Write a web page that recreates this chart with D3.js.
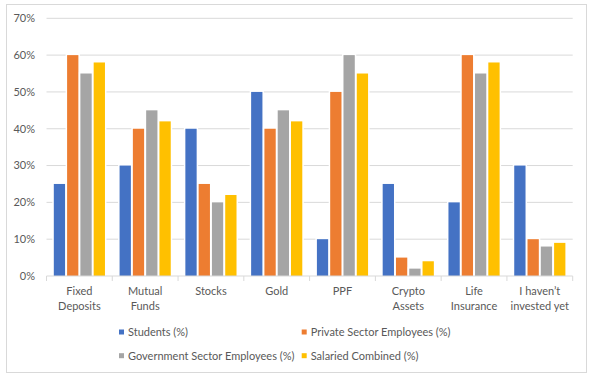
<!DOCTYPE html>
<html><head><meta charset="utf-8">
<script src="https://cdn.jsdelivr.net/npm/d3@7/dist/d3.min.js"></script>
<style>
body{margin:0;background:#fff;}
svg text{font-family:"Lato","Open Sans",sans-serif;fill:#595959;}
</style></head>
<body><svg id="c" width="592" height="380"></svg>
<script>
const categories = [["Fixed","Deposits"],["Mutual","Funds"],["Stocks"],["Gold"],["PPF"],["Crypto","Assets"],["Life","Insurance"],["I haven\u2019t","invested yet"]];
const seriesNames = ["Students (%)","Private Sector Employees (%)","Government Sector Employees (%)","Salaried Combined (%)"];
const colors = ["#4472c4","#ed7d31","#a5a5a5","#ffc000"];
const students = [25,30,40,50,10,25,20,30];
const privateSector = [60,40,25,40,50,5,60,10];
const government = [55,45,20,45,60,2,55,8];
const salaried = [58,42,22,42,55,4,58,9];
const yTicks = [0,10,20,30,40,50,60,70];

(function(){
const series = [students, privateSector, government, salaried];
const svg = d3.select("#c");
svg.append("rect").attr("x",6.5).attr("y",4.5).attr("width",580).attr("height",368)
  .attr("fill","#fff").attr("stroke","#d9d9d9");

const pL = 46.5, pR = 572.7, pT = 18.3, pB = 276;
const idx = d3.range(categories.length);
const x0 = d3.scaleBand().domain(idx).range([pL,pR]).padding(0);
const x1 = d3.scaleBand().domain(d3.range(4)).range([0,x0.bandwidth()]).paddingInner(0.15).paddingOuter(0.55);
const y = d3.scaleLinear().domain([0,70]).range([pB,pT]);

svg.append("g").selectAll("line").data(yTicks.filter(d=>d>0)).join("line")
  .attr("x1",pL).attr("x2",pR).attr("y1",d=>y(d)).attr("y2",d=>y(d))
  .attr("stroke","#d9d9d9").attr("stroke-width",1);

svg.append("g").selectAll("text").data(yTicks).join("text")
  .attr("x",35).attr("y",d=>y(d)).attr("dy","0.35em").attr("text-anchor","end")
  .attr("font-size",11).text(d=>d+"%");

const g = svg.append("g");
series.forEach((vals,si)=>{
  g.append("g").selectAll("rect").data(vals).join("rect")
    .attr("x",(d,i)=>x0(i)+x1(si)).attr("width",x1.bandwidth())
    .attr("y",d=>y(d)).attr("height",d=>pB-y(d))
    .attr("fill",colors[si]).attr("stroke","#fff").attr("stroke-width",3)
    .style("paint-order","stroke");
});

svg.append("line").attr("x1",pL).attr("x2",pR).attr("y1",pB).attr("y2",pB)
  .attr("stroke","#d9d9d9");
svg.append("g").selectAll("line").data(d3.range(categories.length+1)).join("line")
  .attr("x1",d=>pL+d*x0.step()).attr("x2",d=>pL+d*x0.step())
  .attr("y1",pB).attr("y2",pB+5).attr("stroke","#d9d9d9");

const lab = svg.append("g").selectAll("text").data(categories).join("text")
  .attr("text-anchor","middle").attr("font-size",11)
  .attr("transform",(d,i)=>`translate(${x0(i)+x0.bandwidth()/2},0)`);
lab.selectAll("tspan").data(d=>d).join("tspan")
  .attr("x",0).attr("y",(d,i)=>291+i*15).attr("dy","0.35em").text(d=>d);

const legPos = [[119,332],[301.7,332],[119,355.7],[301.7,355.7]];
seriesNames.forEach((n,i)=>{
  const [lx,ly] = legPos[i];
  svg.append("rect").attr("x",lx).attr("y",ly-2.5).attr("width",5).attr("height",5).attr("fill",colors[i]);
  svg.append("text").attr("x",lx+9).attr("y",ly).attr("dy","0.35em").attr("font-size",11).text(n);
});
})();
</script></body></html>
